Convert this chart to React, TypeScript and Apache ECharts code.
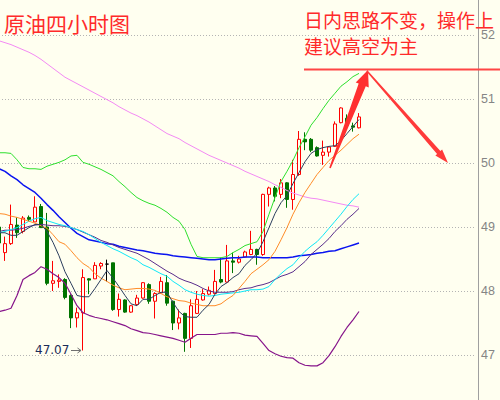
import React, { useEffect, useRef } from "react";
import * as echarts from "echarts";

// ---- data (k = -1 .. 59) ----
const opens = [49.00, 48.60, 48.74, 49.03, 48.93, 49.15, 49.08, 49.32, 49.00, 48.12, 48.15, 48.18, 47.93, 47.58, 47.66, 48.19, 48.19, 48.39, 48.42, 48.44, 47.71, 47.86, 47.67, 47.79, 47.89, 48.10, 47.84, 47.97, 48.13, 47.84, 47.50, 47.65, 47.26, 47.65, 47.86, 47.95, 47.96, 48.18, 48.14, 48.47, 48.45, 48.53, 48.57, 48.65, 48.57, 49.51, 49.61, 49.51, 49.69, 49.43, 49.82, 50.37, 50.37, 50.24, 50.12, 50.17, 50.26, 50.63, 50.70, 50.58, 50.55];
const closes = [48.75, 48.74, 49.04, 48.91, 49.14, 49.12, 49.31, 48.99, 48.12, 48.16, 48.17, 47.90, 47.58, 47.66, 48.21, 48.17, 48.40, 48.43, 48.42, 47.71, 47.87, 47.67, 47.77, 47.89, 48.13, 47.84, 47.96, 48.15, 47.81, 47.50, 47.58, 47.26, 47.77, 47.87, 47.96, 48.01, 48.15, 48.14, 48.47, 48.45, 48.50, 48.61, 48.65, 48.57, 49.51, 49.61, 49.48, 49.69, 49.43, 49.82, 50.37, 50.33, 50.20, 50.11, 50.17, 50.25, 50.61, 50.86, 50.59, 50.56, 50.72];
const lows = [48.60, 48.47, 48.72, 48.83, 48.90, 49.09, 49.08, 48.99, 48.09, 48.00, 48.05, 47.87, 47.42, 47.43, 47.07, 47.95, 48.19, 48.34, 48.15, 47.69, 47.60, 47.66, 47.66, 47.77, 47.88, 47.80, 47.57, 47.96, 47.77, 47.39, 47.40, 47.05, 47.11, 47.64, 47.85, 47.93, 47.95, 48.12, 48.13, 48.28, 48.43, 48.52, 48.56, 48.41, 48.55, 49.32, 49.40, 49.45, 49.30, 49.27, 49.80, 50.20, 50.17, 50.10, 49.97, 50.10, 50.25, 50.62, 50.55, 50.49, 50.54];
const highs = [49.10, 48.85, 49.35, 49.15, 49.17, 49.18, 49.48, 49.36, 49.22, 48.47, 48.26, 48.20, 47.95, 47.74, 48.34, 48.20, 48.45, 48.45, 48.49, 48.44, 47.96, 47.87, 47.78, 47.94, 48.14, 48.12, 47.98, 48.22, 48.25, 47.85, 47.71, 47.66, 47.87, 48.00, 48.03, 48.07, 48.33, 48.52, 48.72, 48.60, 48.55, 48.63, 48.94, 48.66, 49.52, 49.63, 49.64, 49.75, 49.70, 50.05, 50.50, 50.48, 50.39, 50.26, 50.35, 50.26, 50.65, 50.87, 50.76, 50.63, 50.78];

const ma5 = [48.91, 48.91, 48.87, 48.87, 48.93, 48.99, 49.04, 49.04, 48.93, 48.76, 48.55, 48.30, 48.12, 47.93, 47.91, 47.91, 48.04, 48.18, 48.32, 48.20, 48.07, 47.93, 47.80, 47.77, 47.87, 47.87, 47.93, 47.98, 47.98, 47.82, 47.68, 47.60, 47.59, 47.59, 47.70, 47.79, 47.95, 48.07, 48.13, 48.21, 48.27, 48.40, 48.49, 48.59, 48.77, 48.99, 49.21, 49.38, 49.49, 49.68, 49.85, 50.02, 50.15, 50.21, 50.24, 50.26, 50.27, 50.35, 50.46, 50.57, 50.68];
const ma10 = [49.21, 49.20, 49.17, 49.15, 49.12, 49.09, 49.06, 49.02, 48.98, 48.88, 48.77, 48.73, 48.63, 48.52, 48.43, 48.37, 48.27, 48.20, 48.15, 48.09, 48.05, 48.02, 48.03, 48.04, 48.04, 48.03, 48.01, 47.96, 47.91, 47.88, 47.85, 47.84, 47.81, 47.79, 47.77, 47.77, 47.77, 47.80, 47.87, 47.93, 48.04, 48.15, 48.27, 48.34, 48.41, 48.49, 48.62, 48.80, 48.99, 49.20, 49.38, 49.54, 49.68, 49.82, 49.93, 50.04, 50.12, 50.20, 50.29, 50.38, 50.45];
const ma30 = [48.91, 48.93, 48.96, 48.99, 49.04, 49.09, 49.13, 49.15, 49.10, 49.07, 49.04, 49.02, 48.99, 48.96, 48.93, 48.88, 48.82, 48.76, 48.71, 48.66, 48.62, 48.57, 48.52, 48.48, 48.41, 48.37, 48.32, 48.27, 48.23, 48.15, 48.09, 48.02, 47.98, 47.95, 47.93, 47.92, 47.93, 47.95, 47.96, 47.97, 47.98, 48.00, 48.02, 48.02, 48.03, 48.07, 48.18, 48.27, 48.35, 48.41, 48.52, 48.62, 48.70, 48.77, 48.87, 48.98, 49.09, 49.20, 49.32, 49.43, 49.52];
const ma40 = [48.93, 48.95, 48.95, 48.96, 48.98, 49.01, 49.03, 49.04, 49.03, 49.02, 49.02, 49.01, 48.99, 48.96, 48.92, 48.88, 48.84, 48.79, 48.76, 48.72, 48.68, 48.65, 48.62, 48.59, 48.54, 48.49, 48.43, 48.37, 48.31, 48.26, 48.20, 48.16, 48.13, 48.09, 48.04, 48.00, 47.98, 47.98, 47.98, 47.99, 48.02, 48.04, 48.05, 48.08, 48.10, 48.13, 48.18, 48.23, 48.26, 48.30, 48.38, 48.46, 48.57, 48.65, 48.73, 48.82, 48.93, 49.02, 49.12, 49.20, 49.29];
const ma60 = [49.91, 49.87, 49.80, 49.74, 49.66, 49.60, 49.54, 49.45, 49.35, 49.26, 49.16, 49.07, 48.98, 48.90, 48.85, 48.80, 48.78, 48.76, 48.74, 48.73, 48.70, 48.68, 48.66, 48.64, 48.63, 48.61, 48.59, 48.58, 48.57, 48.55, 48.54, 48.53, 48.52, 48.51, 48.50, 48.49, 48.49, 48.50, 48.51, 48.52, 48.52, 48.53, 48.53, 48.53, 48.52, 48.52, 48.52, 48.52, 48.52, 48.53, 48.55, 48.56, 48.57, 48.59, 48.60, 48.62, 48.63, 48.66, 48.69, 48.72, 48.75];
const ma120 = [51.91, 51.88, 51.85, 51.81, 51.77, 51.73, 51.68, 51.62, 51.55, 51.48, 51.41, 51.34, 51.29, 51.24, 51.19, 51.14, 51.09, 51.04, 50.99, 50.94, 50.88, 50.83, 50.78, 50.74, 50.69, 50.64, 50.58, 50.52, 50.46, 50.42, 50.38, 50.32, 50.27, 50.22, 50.17, 50.12, 50.08, 50.04, 50.00, 49.96, 49.92, 49.87, 49.83, 49.79, 49.75, 49.71, 49.66, 49.62, 49.57, 49.53, 49.50, 49.47, 49.45, 49.44, 49.42, 49.40, 49.38, 49.36, 49.34, 49.33, 49.31];
const bollUpper = [50.16, 50.16, 50.15, 50.05, 49.93, 49.91, 49.91, 49.90, 49.95, 49.98, 50.01, 50.05, 50.11, 50.12, 50.01, 49.98, 49.94, 49.90, 49.85, 49.80, 49.71, 49.63, 49.54, 49.46, 49.41, 49.37, 49.34, 49.29, 49.23, 49.15, 49.09, 48.96, 48.73, 48.54, 48.52, 48.52, 48.52, 48.52, 48.54, 48.60, 48.65, 48.71, 48.74, 48.77, 48.93, 49.20, 49.46, 49.71, 49.87, 50.04, 50.24, 50.41, 50.59, 50.71, 50.85, 50.98, 51.09, 51.20, 51.27, 51.35, 51.40];
const bollLower = [47.68, 47.70, 47.73, 47.93, 48.18, 48.24, 48.29, 48.38, 48.34, 48.27, 48.21, 48.12, 47.95, 47.77, 47.66, 47.62, 47.59, 47.57, 47.55, 47.52, 47.49, 47.46, 47.41, 47.38, 47.35, 47.34, 47.32, 47.30, 47.28, 47.26, 47.23, 47.20, 47.26, 47.32, 47.32, 47.32, 47.32, 47.34, 47.34, 47.35, 47.34, 47.31, 47.30, 47.29, 47.18, 47.07, 47.02, 46.98, 46.96, 46.95, 46.88, 46.84, 46.83, 46.83, 46.88, 46.99, 47.13, 47.29, 47.43, 47.55, 47.68];

const categoryCount = 80;
const categories = Array.from({ length: categoryCount }, (_, i) => `K${i + 1}`);
const yTicks = { min: 46, max: 53, step: 1 };
const lowLabel = "47.07";

const BG = "#fffff0";
const RED = "#ff2a2a";

function arrowPoly(bx: number, by: number, tx: number, ty: number, w0: number, w1: number, headLen: number, headHalf: number) {
  const dx = tx - bx, dy = ty - by;
  const L = Math.hypot(dx, dy);
  const ux = dx / L, uy = dy / L;
  const nx = -uy, ny = ux;
  const hx = tx - ux * headLen, hy = ty - uy * headLen;
  return [
    [bx + nx * w0, by + ny * w0],
    [hx + nx * w1, hy + ny * w1],
    [hx + nx * headHalf, hy + ny * headHalf],
    [tx, ty],
    [hx - nx * headHalf, hy - ny * headHalf],
    [hx - nx * w1, hy - ny * w1],
    [bx - nx * w0, by - ny * w0],
  ];
}

export default function App() {
  const ref = useRef<HTMLDivElement>(null);
  useEffect(() => {
    if (!ref.current) return;
    const chart = echarts.init(ref.current, undefined, { renderer: "svg" });
    const candles = opens.map((o, i) => [o, closes[i], lows[i], highs[i]]);
    const line = (name: string, data: number[], color: string, width = 1) => ({
      name,
      type: "line",
      data,
      symbol: "none",
      showSymbol: false,
      lineStyle: { color, width },
      z: 3,
      silent: true,
    });
    chart.setOption({
      animation: false,
      backgroundColor: BG,
      grid: { left: -4, right: 24, top: -29, bottom: -19, containLabel: false, outerBoundsMode: "none" },
      xAxis: {
        type: "category",
        data: categories,
        boundaryGap: true,
        show: false,
      },
      yAxis: {
        type: "value",
        position: "right",
        offset: 2,
        min: yTicks.min,
        max: yTicks.max,
        interval: yTicks.step,
        axisLine: { show: true, lineStyle: { color: "#a0a0a0", width: 1 } },
        axisTick: { show: false },
        axisLabel: {
          color: "#858585", fontSize: 12.5, lineHeight: 12, fontFamily: "Liberation Sans", margin: 3,
          showMinLabel: false, showMaxLabel: false,
        },
        splitLine: { show: true, lineStyle: { color: "#b4b4b4", type: [1, 2], width: 1 } },
      },
      series: [
        {
          type: "candlestick",
          data: candles,
          barWidth: 4,
          itemStyle: {
            color: BG,
            color0: "#007400",
            borderColor: "#ff0000",
            borderColor0: "#007400",
            borderColorDoji: "#000000",
            borderWidth: 1,
          },
          z: 2,
          silent: true,
        },
        line("MA120", ma120, "#f48af4"),
        line("BOLL-UP", bollUpper, "#2ee02e"),
        line("BOLL-DN", bollLower, "#86148a", 1.2),
        line("MA60", ma60, "#0a14f0", 1.5),
        line("MA40", ma40, "#5a2e8c"),
        line("MA30", ma30, "#10e8f8"),
        line("MA10", ma10, "#ff8c28"),
        line("MA5", ma5, "#2c3e5e"),
      ],
      graphic: [
        {
          type: "text", x: 4, y: 23, z: 100,
          style: { text: "原油四小时图", fill: RED, fontSize: 21, lineHeight: 21, fontFamily: "Noto Sans CJK SC", verticalAlign: "middle" },
        },
        {
          type: "text", x: 304, y: 19, z: 100,
          style: { text: "日内思路不变，操作上", fill: RED, fontSize: 19, lineHeight: 17, fontFamily: "Noto Sans CJK SC", verticalAlign: "middle" },
        },
        {
          type: "text", x: 304, y: 45.5, z: 100,
          style: { text: "建议高空为主", fill: RED, fontSize: 19, lineHeight: 19, fontFamily: "Noto Sans CJK SC", verticalAlign: "middle" },
        },
        {
          type: "line", z: 100,
          shape: { x1: 304, y1: 69.5, x2: 500, y2: 69.5 },
          style: { stroke: "#ff4545", lineWidth: 2 },
        },
        {
          type: "polygon", z: 101,
          shape: { points: arrowPoly(330, 168, 368, 70, 0.8, 3.8, 16, 7) },
          style: { fill: "#ff3030" },
        },
        {
          type: "polygon", z: 101,
          shape: { points: arrowPoly(367, 71, 448, 163, 0.8, 2.2, 14, 4.5) },
          style: { fill: "#ff3a3a" },
        },
        {
          type: "text", x: 35, y: 350, z: 100,
          style: { text: lowLabel, fill: "#1c2c58", fontSize: 12, lineHeight: 12, fontFamily: "DejaVu Sans", verticalAlign: "middle" },
        },
        {
          type: "line", z: 100,
          shape: { x1: 71, y1: 350.5, x2: 81, y2: 350.5 },
          style: { stroke: "#707070", lineWidth: 1 },
        },
        {
          type: "polyline", z: 100,
          shape: { points: [[77.5, 348], [81, 350.5], [77.5, 353]] },
          style: { stroke: "#707070", lineWidth: 1, fill: null },
        },
      ],
    });
    return () => chart.dispose();
  }, []);
  return <div ref={ref} style={{ position: "absolute", left: 0, top: 0, width: 500, height: 400 }} />;
}
